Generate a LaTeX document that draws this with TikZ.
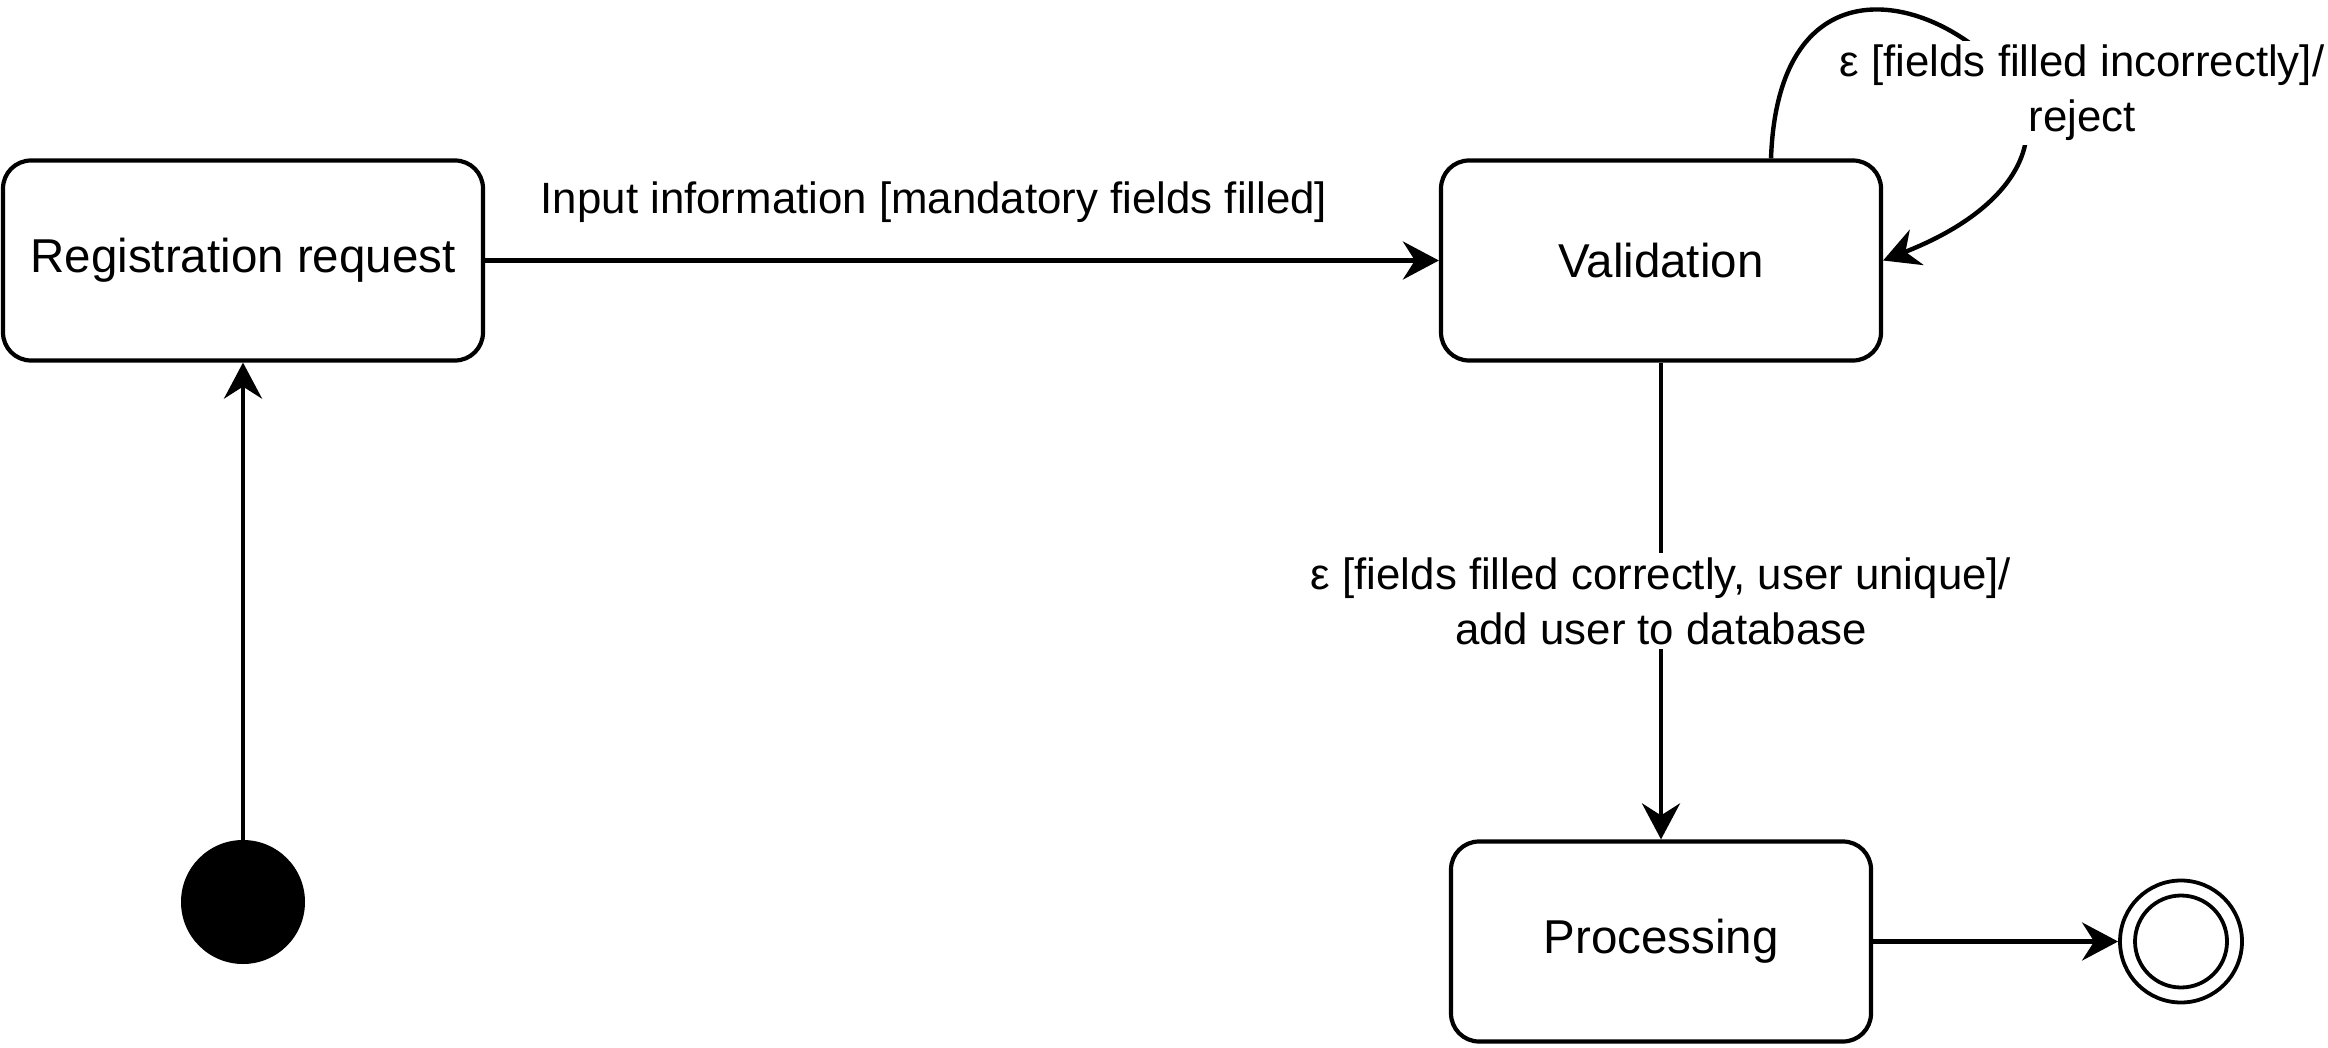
\documentclass[tikz,border=0pt]{standalone}
\usepackage{fontspec}
\setmainfont{Liberation Sans}
\usetikzlibrary{arrows.meta}
\begin{document}
\begin{tikzpicture}[x=1pt,y=-1pt,
  state/.style={draw, line width=4.2pt, rounded corners=28pt, minimum height=200pt, font=\fontsize{47.5}{57}\selectfont, inner sep=0pt},
  lbl/.style={font=\fontsize{43.8}{55}\selectfont, align=center, inner sep=0pt},
  conn/.style={line width=4.4pt, -{Stealth[length=36pt,width=38pt,inset=12pt]}},
  ring/.style={circle, draw, line width=3.8pt, inner sep=0pt},
]
\useasboundingbox (0,0) rectangle (2328,1048);
\node[state, minimum width=480pt] (reg) at (243,260.5) {Registration request};
\node[state, minimum width=440pt] (val) at (1661,260.5) {Validation};
\node[state, minimum width=420pt] (proc) at (1661,941.5) {Processing};
\node[circle, fill=black, minimum size=124pt, inner sep=0pt] (init) at (243,902) {};
\node[ring, minimum size=122pt] (fin) at (2181,941.5) {};
\node[ring, minimum size=92pt] (finin) at (fin) {};

\draw[conn] (init) -- (reg);
\draw[conn] (reg) -- (val);
\draw[conn] (val) -- node[lbl, fill=white, inner xsep=4pt, inner ysep=4pt] (lblb) {ε [fields filled correctly, user unique]/\\add user to database} (proc);
\draw[conn] (proc) -- (fin);
\draw[conn] ([xshift=110pt]val.north) .. controls (1778,-40) and (1930,-10) .. (2005,75) .. controls (2052,128) and (2025,205) .. (val.east);

\node[lbl] (lbla) at (934,202) {Input information [mandatory fields filled]};
\node[lbl, fill=white, inner xsep=4pt, inner ysep=4pt] (lblc) at (2082,93) {ε [fields filled incorrectly]/\\reject};
\end{tikzpicture}
\end{document}
